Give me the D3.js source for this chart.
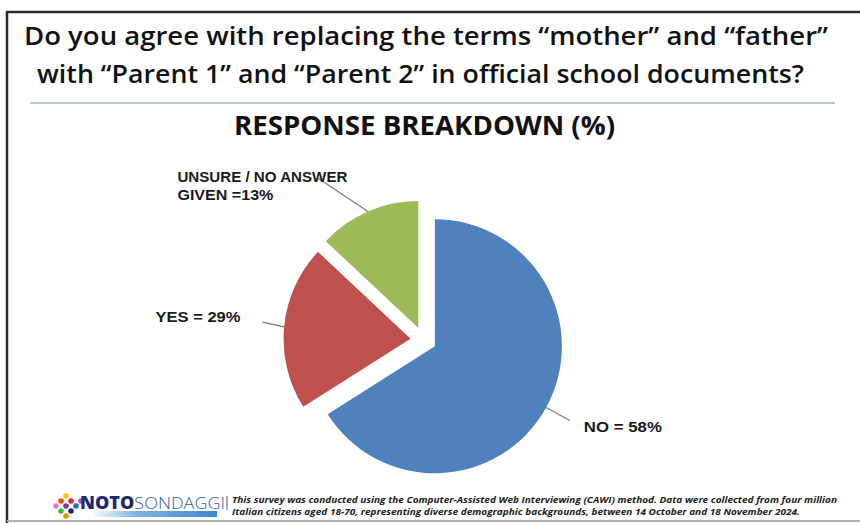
<!DOCTYPE html>
<html><head><meta charset="utf-8">
<script src="https://cdn.jsdelivr.net/npm/d3@7"></script>
<style>html,body{margin:0;padding:0;background:#fff;}svg{display:block;}</style>
</head><body>
<script>
// ---- data ----
const categories = ["NO", "YES", "UNSURE / NO ANSWER GIVEN"];
const reportedPercent = [58, 29, 13];           // as printed in labels
const drawnShares = [66, 21, 13];               // slice sizes as drawn in the picture
const labelLines = [["NO = 58%"], ["YES = 29%"], ["UNSURE / NO ANSWER", "GIVEN =13%"]];
const sliceColors = ["#4f81bd", "#c0504d", "#9bbb59"];
const titleLines = ["Do you agree with replacing the terms \u201cmother\u201d and \u201cfather\u201d",
                    "with \u201cParent 1\u201d and \u201cParent 2\u201d in official school documents?"];
const subtitle = "RESPONSE BREAKDOWN (%)";
const footerLines = ["This survey was conducted using the Computer-Assisted Web Interviewing (CAWI) method. Data were collected from four million",
                     "Italian citizens aged 18-70, representing diverse demographic backgrounds, between 14 October and 18 November 2024."];

const W = 860, H = 523;
const svg = d3.select("body").append("svg").attr("width", W).attr("height", H);
svg.append("rect").attr("width", W).attr("height", H).attr("fill", "#fff");

// frame
svg.append("line").attr("x1", 6).attr("x2", W).attr("y1", 12).attr("y2", 12).attr("stroke", "#2b2b2b").attr("stroke-width", 2.5);
svg.append("line").attr("x1", 7).attr("x2", 7).attr("y1", 11).attr("y2", H).attr("stroke", "#2b2b2b").attr("stroke-width", 2.5);
svg.append("line").attr("x1", 7).attr("x2", W).attr("y1", 521).attr("y2", 521).attr("stroke", "#b0b0b0").attr("stroke-width", 2);

// title
const tl = [{y: 45, x1: 24, x2: 828}, {y: 83, x1: 37, x2: 804}];
titleLines.forEach((t, i) => {
  svg.append("text").attr("x", tl[i].x1).attr("y", tl[i].y)
    .attr("font-family", "'Open Sans', sans-serif").attr("font-weight", 600).attr("font-size", 25.5)
    .attr("fill", "#111").attr("textLength", tl[i].x2 - tl[i].x1).attr("lengthAdjust", "spacingAndGlyphs").text(t);
});
svg.append("line").attr("x1", 30).attr("x2", 835).attr("y1", 103).attr("y2", 103).attr("stroke", "#9fb4c9").attr("stroke-width", 1.5);

svg.append("text").attr("x", 234).attr("y", 135)
  .attr("font-family", "'Open Sans', sans-serif").attr("font-weight", 700).attr("font-size", 27)
  .attr("fill", "#111").attr("textLength", 381).attr("lengthAdjust", "spacingAndGlyphs").text(subtitle);

// pie
const cx = 423.5, cy = 340, R = 127, explode = 13;
const pie = d3.pie().sort(null).startAngle(0).endAngle(2 * Math.PI).value(d => d);
const arcs = pie(drawnShares);
const arc = d3.arc().innerRadius(0).outerRadius(R);
const polar = (a, r) => [r * Math.sin(a), -r * Math.cos(a)];

// leader / label layout per slice
const layout = [
  {da: 0, r2: 154, dx: 14, dy: 12, anchor: "start", w: [78]},
  {da: 1, r2: 149, dx: -22, dy: 0, anchor: "end", w: [85]},
  {da: -10.5, r2: 181, dx: -140, dy: 4, anchor: "start", w: [170, 96]}
];

const g = svg.append("g").attr("transform", `translate(${cx},${cy})`);
arcs.forEach((a, i) => {
  const mid = (a.startAngle + a.endAngle) / 2;
  const [ox, oy] = polar(mid, explode);
  const sg = g.append("g").attr("transform", `translate(${ox},${oy})`);
  sg.append("path").attr("d", arc(a)).attr("fill", sliceColors[i]);
  const L = layout[i];
  const [sx, sy] = polar(mid, R);
  const [ex, ey] = polar(mid + L.da * Math.PI / 180, L.r2);
  sg.append("line").attr("x1", sx).attr("y1", sy).attr("x2", ex).attr("y2", ey)
    .attr("stroke", "#7a7a7a").attr("stroke-width", 1.2);
  labelLines[i].forEach((t, j) => {
    sg.append("text").attr("x", ex + L.dx).attr("y", ey + L.dy + j * 18)
      .attr("text-anchor", L.anchor)
      .attr("font-family", "'Liberation Sans', Arial, sans-serif").attr("font-weight", 700).attr("font-size", 15.5)
      .attr("fill", "#1a1a1a").attr("textLength", L.w[j]).attr("lengthAdjust", "spacingAndGlyphs").text(t);
  });
});

// footer logo
const dotColors = ["#f5c400", "#e8501c", "#d7263d", "#e879b8", "#7b3fa0", "#2b6cc4", "#3bb54a", "#1f2a6e", "#f29100", "#9c5fc0"];
const dots = [[0,-10],[-5,-5],[5,-5],[-10,0],[0,0],[10,0],[-5,5],[5,5],[0,10],[15,-5]];
const lg = svg.append("g").attr("transform", "translate(66,506)");
dots.forEach((d, i) => lg.append("circle").attr("cx", d[0]).attr("cy", d[1]).attr("r", 2.8).attr("fill", dotColors[i]));

const grad = svg.append("defs").append("linearGradient").attr("id", "bar");
grad.append("stop").attr("offset", "0%").attr("stop-color", "#ffffff");
grad.append("stop").attr("offset", "35%").attr("stop-color", "#7fb4e6");
grad.append("stop").attr("offset", "100%").attr("stop-color", "#3d86d1");
svg.append("rect").attr("x", 92).attr("y", 511).attr("width", 125).attr("height", 6).attr("fill", "url(#bar)");

const logoText = svg.append("text").attr("x", 80).attr("y", 509)
  .attr("font-family", "'Open Sans', sans-serif").attr("font-size", 17);
logoText.append("tspan").attr("font-weight", 800).attr("fill", "#1f2a6e").text("NOTO");
logoText.append("tspan").attr("font-weight", 300).attr("fill", "#3a5aa8").text("SONDAGGI");
logoText.attr("textLength", 145).attr("lengthAdjust", "spacingAndGlyphs");
svg.append("line").attr("x1", 227).attr("x2", 227).attr("y1", 496).attr("y2", 510).attr("stroke", "#3a5aa8").attr("stroke-width", 1);

const fl = [{y: 503, w: 605}, {y: 515, w: 568}];
footerLines.forEach((t, i) => {
  svg.append("text").attr("x", 232).attr("y", fl[i].y)
    .attr("font-family", "'Open Sans', sans-serif").attr("font-style", "italic").attr("font-weight", 700).attr("font-size", 9.5)
    .attr("fill", "#222").attr("textLength", fl[i].w).attr("lengthAdjust", "spacingAndGlyphs").text(t);
});
</script>
</body></html>
